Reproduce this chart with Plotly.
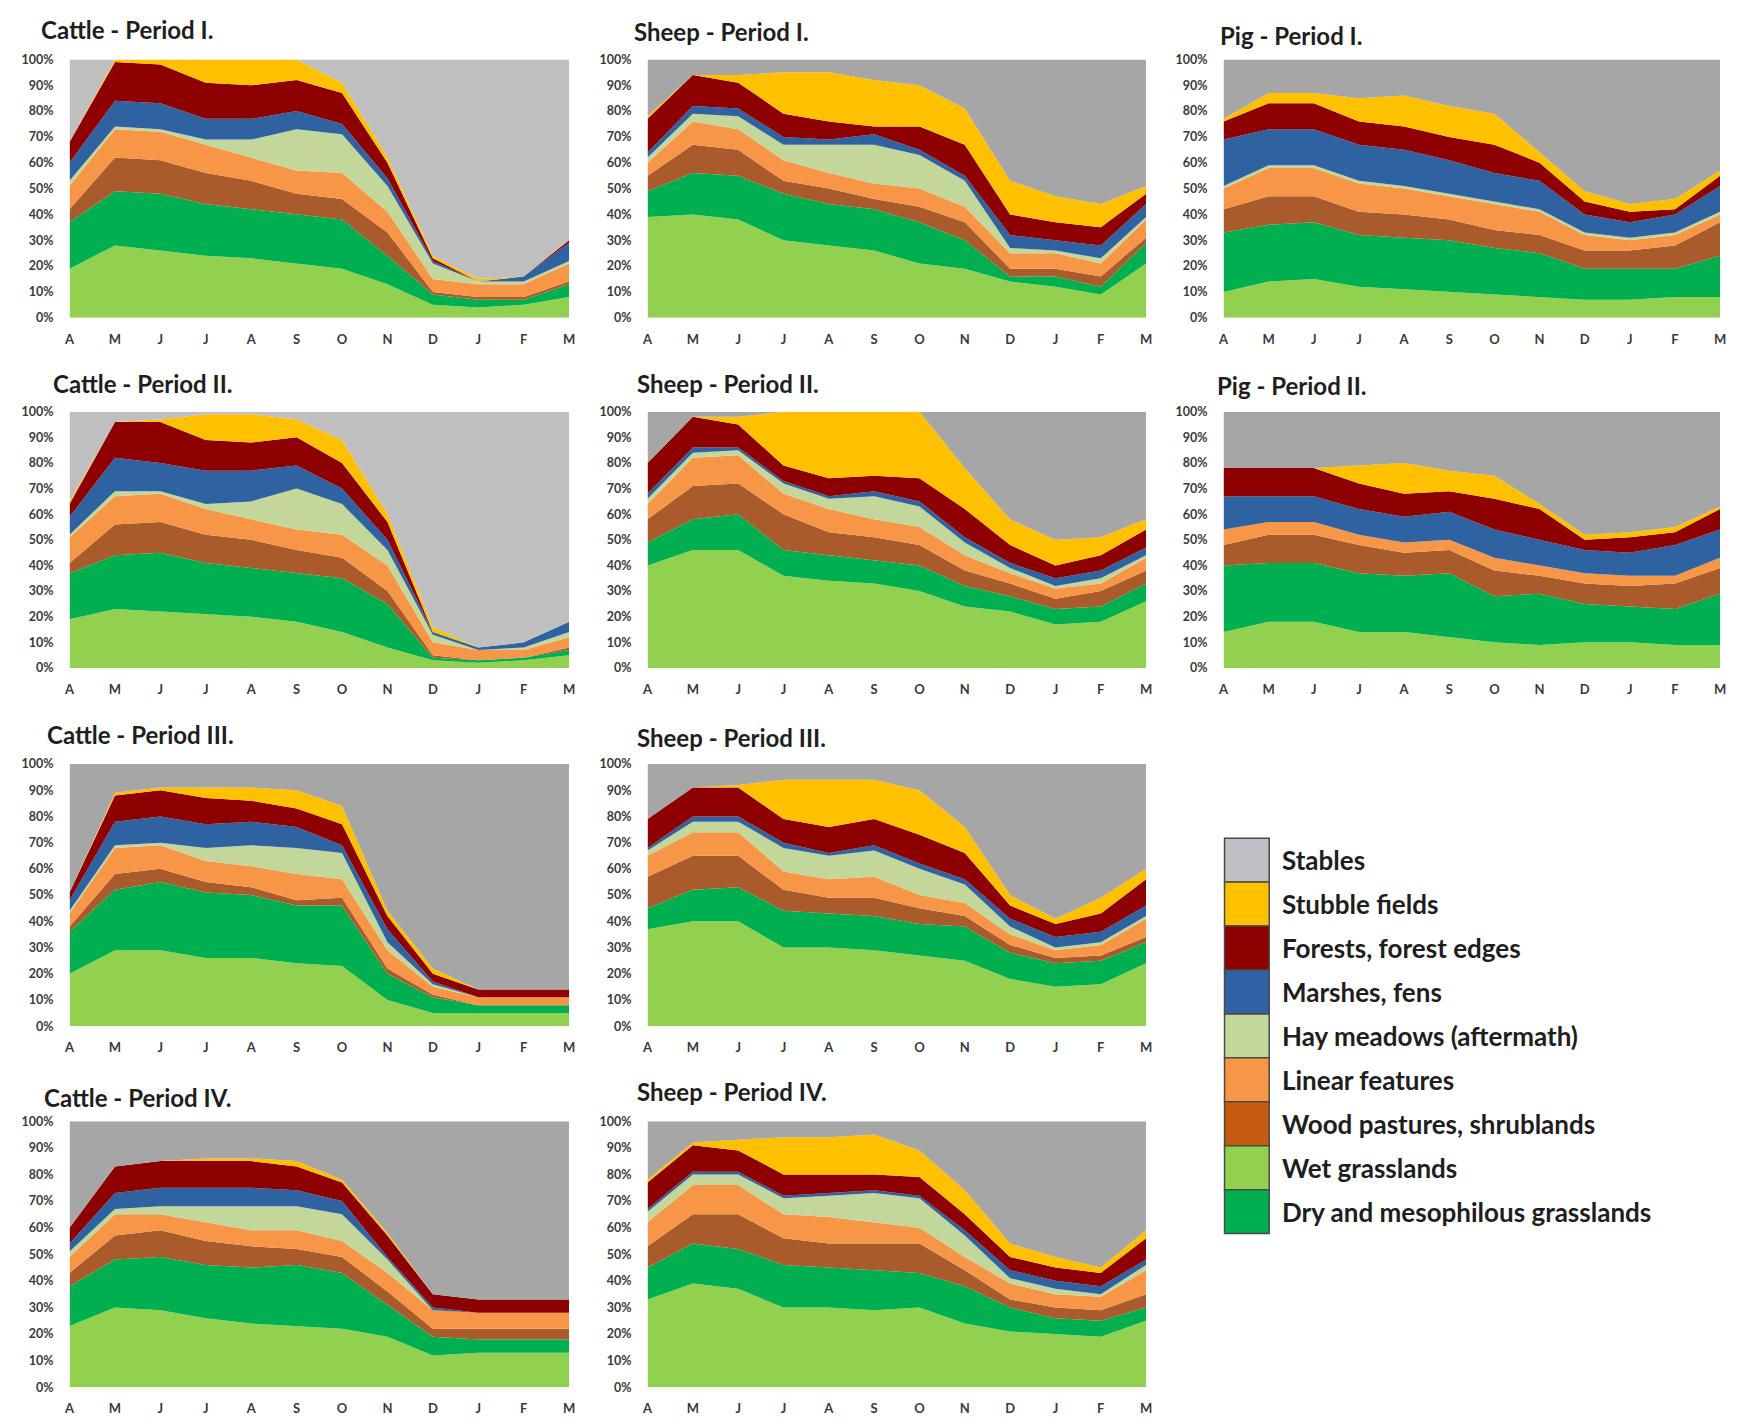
import plotly.graph_objects as go

W, H = 1738, 1427

MONTHS = ["A", "M", "J", "J", "A", "S", "O", "N", "D", "J", "F", "M"]
Y_TICK_VALUES = [0, 10, 20, 30, 40, 50, 60, 70, 80, 90, 100]
Y_TICK_LABELS = ["0%", "10%", "20%", "30%", "40%", "50%", "60%", "70%", "80%", "90%", "100%"]

# stacking order, bottom to top
LAYER_KEYS = ["wet", "dry", "wood", "linear", "hay", "marsh", "forest", "stubble", "stables"]
LAYER_NAMES = {
    "stables": "Stables",
    "stubble": "Stubble fields",
    "forest": "Forests, forest edges",
    "marsh": "Marshes, fens",
    "hay": "Hay meadows (aftermath)",
    "linear": "Linear features",
    "wood": "Wood pastures, shrublands",
    "wet": "Wet grasslands",
    "dry": "Dry and mesophilous grasslands",
}
LEGEND_ORDER = ["stables", "stubble", "forest", "marsh", "hay", "linear", "wood", "wet", "dry"]

COLORS = {
    "wet": "#92d050",
    "dry": "#00b050",
    "wood": "#aa5b2b",
    "linear": "#f79646",
    "hay": "#c4d79b",
    "marsh": "#2f62a0",
    "forest": "#8e0000",
    "stubble": "#ffc000",
    "stables": "#a6a6a6",
}
LEGEND_COLORS = {
    "stables": "#c0c0c6",
    "stubble": "#ffc000",
    "forest": "#8e0000",
    "marsh": "#2f62a6",
    "hay": "#c4d79b",
    "linear": "#f79646",
    "wood": "#c55a11",
    "wet": "#92d050",
    "dry": "#00b050",
}

# ---- data: share (%) of each habitat per month, April .. March ----
CATTLE_I = {
    "wet":     [19, 28, 26, 24, 23, 21, 19, 13, 5, 4, 5, 8],
    "dry":     [18, 21, 22, 20, 19, 19, 19, 11, 4, 3, 2, 5],
    "wood":    [5, 13, 13, 12, 11, 8, 8, 9, 1, 1, 1, 1],
    "linear":  [9, 11, 11, 11, 9, 9, 10, 8, 5, 5, 5, 7],
    "hay":     [2, 1, 1, 2, 7, 16, 15, 10, 6, 1, 1, 1],
    "marsh":   [7, 10, 10, 8, 8, 7, 4, 3, 1, 0, 2, 7],
    "forest":  [8, 15, 15, 14, 13, 12, 12, 6, 1, 0, 0, 1],
    "stubble": [0, 1, 2, 9, 10, 8, 4, 2, 1, 1, 0, 0],
    "stables": [32, 0, 0, 0, 0, 0, 9, 38, 76, 85, 84, 70],
}
SHEEP_I = {
    "wet":     [39, 40, 38, 30, 28, 26, 21, 19, 14, 12, 9, 21],
    "dry":     [10, 16, 17, 18, 16, 16, 16, 11, 2, 4, 3, 8],
    "wood":    [6, 11, 10, 5, 6, 4, 6, 7, 3, 3, 4, 2],
    "linear":  [5, 9, 8, 8, 6, 6, 7, 6, 6, 6, 5, 7],
    "hay":     [2, 3, 5, 6, 11, 15, 13, 10, 2, 1, 2, 1],
    "marsh":   [2, 3, 3, 3, 2, 4, 2, 2, 5, 4, 5, 5],
    "forest":  [13, 12, 10, 9, 7, 3, 9, 12, 8, 7, 7, 4],
    "stubble": [1, 0, 3, 16, 19, 18, 16, 14, 13, 10, 9, 3],
    "stables": [22, 6, 6, 5, 5, 8, 10, 19, 47, 53, 56, 49],
}
PIG_I = {
    "wet":     [10, 14, 15, 12, 11, 10, 9, 8, 7, 7, 8, 8],
    "dry":     [23, 22, 22, 20, 20, 20, 18, 17, 12, 12, 11, 16],
    "wood":    [9, 11, 10, 9, 9, 8, 7, 7, 7, 7, 9, 13],
    "linear":  [8, 11, 11, 11, 10, 9, 10, 9, 6, 4, 4, 3],
    "hay":     [1, 1, 1, 1, 1, 1, 1, 1, 1, 1, 1, 1],
    "marsh":   [18, 14, 14, 14, 14, 13, 11, 11, 7, 6, 7, 10],
    "forest":  [7, 10, 10, 9, 9, 9, 11, 7, 5, 4, 2, 4],
    "stubble": [1, 4, 4, 9, 12, 12, 12, 4, 4, 3, 4, 2],
    "stables": [23, 13, 13, 15, 14, 18, 21, 36, 51, 56, 54, 43],
}
CATTLE_II = {
    "wet":     [19, 23, 22, 21, 20, 18, 14, 8, 3, 2, 3, 5],
    "dry":     [18, 21, 23, 20, 19, 19, 21, 17, 1, 1, 1, 2],
    "wood":    [4, 12, 12, 11, 11, 9, 8, 5, 1, 0, 0, 1],
    "linear":  [10, 11, 11, 10, 8, 8, 9, 10, 5, 4, 3, 4],
    "hay":     [1, 2, 1, 2, 7, 16, 12, 6, 3, 0, 1, 2],
    "marsh":   [7, 13, 11, 13, 12, 9, 6, 4, 1, 1, 2, 4],
    "forest":  [5, 14, 16, 12, 11, 11, 10, 7, 0, 0, 0, 0],
    "stubble": [1, 0, 1, 10, 11, 7, 9, 3, 2, 0, 0, 0],
    "stables": [35, 4, 3, 1, 1, 3, 11, 40, 84, 92, 90, 82],
}
SHEEP_II = {
    "wet":     [40, 46, 46, 36, 34, 33, 30, 24, 22, 17, 18, 26],
    "dry":     [9, 12, 14, 10, 10, 9, 10, 8, 6, 6, 6, 7],
    "wood":    [9, 13, 12, 14, 9, 9, 8, 6, 5, 4, 6, 5],
    "linear":  [6, 11, 11, 8, 9, 7, 7, 6, 4, 4, 3, 5],
    "hay":     [2, 2, 2, 4, 4, 9, 8, 5, 2, 1, 2, 1],
    "marsh":   [2, 2, 1, 1, 1, 2, 2, 2, 2, 3, 3, 3],
    "forest":  [12, 12, 9, 6, 7, 6, 9, 11, 7, 5, 6, 7],
    "stubble": [0, 0, 3, 21, 26, 25, 26, 16, 10, 10, 7, 4],
    "stables": [20, 2, 2, 0, 0, 0, 0, 22, 42, 50, 49, 42],
}
PIG_II = {
    "wet":     [14, 18, 18, 14, 14, 12, 10, 9, 10, 10, 9, 9],
    "dry":     [26, 23, 23, 23, 22, 25, 18, 20, 15, 14, 14, 20],
    "wood":    [8, 11, 11, 11, 9, 9, 10, 7, 8, 8, 10, 10],
    "linear":  [6, 5, 5, 4, 4, 4, 5, 4, 4, 4, 3, 4],
    "hay":     [0, 0, 0, 0, 0, 0, 0, 0, 0, 0, 0, 0],
    "marsh":   [13, 10, 10, 10, 10, 11, 11, 10, 9, 9, 12, 11],
    "forest":  [11, 11, 11, 10, 9, 8, 12, 12, 4, 6, 5, 8],
    "stubble": [0, 0, 0, 7, 12, 8, 9, 2, 2, 2, 2, 1],
    "stables": [22, 22, 22, 21, 20, 23, 25, 36, 48, 47, 45, 37],
}
CATTLE_III = {
    "wet":     [20, 29, 29, 26, 26, 24, 23, 10, 5, 5, 5, 5],
    "dry":     [16, 23, 26, 25, 24, 22, 23, 10, 6, 3, 3, 3],
    "wood":    [2, 6, 5, 4, 3, 2, 3, 2, 1, 0, 0, 0],
    "linear":  [5, 10, 9, 8, 8, 10, 7, 7, 3, 3, 3, 3],
    "hay":     [1, 1, 1, 5, 8, 10, 10, 3, 1, 0, 0, 0],
    "marsh":   [4, 9, 10, 9, 9, 8, 3, 5, 1, 0, 0, 0],
    "forest":  [3, 10, 10, 10, 8, 7, 8, 5, 3, 3, 3, 3],
    "stubble": [0, 1, 1, 4, 5, 7, 7, 2, 2, 0, 0, 0],
    "stables": [49, 11, 9, 9, 9, 10, 16, 56, 78, 86, 86, 86],
}
SHEEP_III = {
    "wet":     [37, 40, 40, 30, 30, 29, 27, 25, 18, 15, 16, 24],
    "dry":     [8, 12, 13, 14, 13, 13, 12, 13, 10, 9, 9, 8],
    "wood":    [12, 13, 12, 8, 6, 7, 6, 4, 3, 2, 2, 2],
    "linear":  [8, 9, 9, 7, 7, 8, 5, 5, 4, 3, 4, 7],
    "hay":     [2, 4, 4, 9, 9, 10, 10, 7, 3, 1, 1, 1],
    "marsh":   [1, 2, 2, 2, 1, 2, 2, 2, 3, 4, 4, 4],
    "forest":  [11, 11, 11, 9, 10, 10, 11, 10, 5, 5, 7, 10],
    "stubble": [0, 0, 1, 15, 18, 15, 17, 10, 4, 2, 6, 4],
    "stables": [21, 9, 8, 6, 6, 6, 10, 24, 50, 59, 51, 40],
}
CATTLE_IV = {
    "wet":     [23, 30, 29, 26, 24, 23, 22, 19, 12, 13, 13, 13],
    "dry":     [15, 18, 20, 20, 21, 23, 21, 12, 7, 5, 5, 5],
    "wood":    [5, 9, 10, 9, 8, 6, 6, 5, 3, 4, 4, 4],
    "linear":  [6, 8, 6, 7, 6, 7, 6, 7, 7, 6, 6, 6],
    "hay":     [2, 2, 3, 6, 9, 9, 10, 5, 0, 0, 0, 0],
    "marsh":   [3, 6, 7, 7, 7, 6, 5, 1, 1, 0, 0, 0],
    "forest":  [6, 10, 10, 10, 10, 9, 7, 8, 5, 5, 5, 5],
    "stubble": [0, 0, 0, 1, 1, 2, 1, 1, 0, 0, 0, 0],
    "stables": [40, 17, 15, 14, 14, 15, 22, 42, 65, 67, 67, 67],
}
SHEEP_IV = {
    "wet":     [33, 39, 37, 30, 30, 29, 30, 24, 21, 20, 19, 25],
    "dry":     [12, 15, 15, 16, 15, 15, 13, 14, 9, 6, 6, 5],
    "wood":    [8, 11, 13, 10, 9, 10, 11, 6, 3, 4, 4, 5],
    "linear":  [9, 11, 11, 9, 10, 8, 6, 5, 6, 5, 5, 9],
    "hay":     [4, 4, 4, 6, 8, 11, 11, 8, 2, 2, 1, 2],
    "marsh":   [1, 1, 1, 1, 1, 1, 1, 2, 3, 3, 3, 2],
    "forest":  [10, 10, 8, 8, 7, 6, 7, 6, 5, 5, 5, 8],
    "stubble": [1, 1, 4, 14, 14, 15, 10, 9, 5, 4, 2, 3],
    "stables": [22, 8, 7, 6, 6, 5, 11, 26, 46, 51, 55, 41],
}

# ---- layout (pixel geometry) ----
COL_X = [(64, 567), (646, 1148), (1226, 1726)]
ROW_Y = [(52, 313), (408, 667), (764, 1029), (1125, 1394)]

# title, data, column, row, stables colour, title x, title y (px)
PANELS = [
    ("Cattle - Period I.", CATTLE_I, 0, 0, "#bfbfbf", 33, 22),
    ("Sheep - Period I.", SHEEP_I, 1, 0, "#a6a6a6", 630, 24),
    ("Pig - Period I.", PIG_I, 2, 0, "#a6a6a6", 1220, 28),
    ("Cattle - Period II.", CATTLE_II, 0, 1, "#bfbfbf", 45, 379),
    ("Sheep - Period II.", SHEEP_II, 1, 1, "#a6a6a6", 633, 379),
    ("Pig - Period II.", PIG_II, 2, 1, "#a6a6a6", 1217, 382),
    ("Cattle - Period III.", CATTLE_III, 0, 2, "#a6a6a6", 39, 734),
    ("Sheep - Period III.", SHEEP_III, 1, 2, "#a6a6a6", 633, 737),
    ("Cattle - Period IV.", CATTLE_IV, 0, 3, "#a6a6a6", 36, 1101),
    ("Sheep - Period IV.", SHEEP_IV, 1, 3, "#a6a6a6", 633, 1095),
]

FONT = "Lato, 'Open Sans', Arial, sans-serif"
X_IDX = list(range(len(MONTHS)))

fig = go.Figure()
layout = dict(
    width=W, height=H, autosize=False,
    margin=dict(l=0, r=0, t=0, b=0),
    paper_bgcolor="white", plot_bgcolor="white",
    showlegend=False,
    font=dict(family=FONT),
)
annotations = []
shapes = []

for i, (title, data, col, row, stab_col, tx, ty) in enumerate(PANELS):
    n = "" if i == 0 else str(i + 1)
    for key in LAYER_KEYS:
        c = stab_col if key == "stables" else COLORS[key]
        fig.add_trace(go.Scatter(
            x=X_IDX, y=data[key], name=LAYER_NAMES[key],
            stackgroup=f"s{i}", mode="lines",
            line=dict(width=0, color=c), fillcolor=c,
            xaxis="x" + n, yaxis="y" + n,
            hovertemplate=LAYER_NAMES[key] + ": %{y}%<extra></extra>",
        ))
    x0, x1 = COL_X[col]
    y0, y1 = ROW_Y[row]
    layout["xaxis" + n] = dict(
        domain=[x0 / W, x1 / W], anchor="y" + n, range=[0, 11],
        tickmode="array", tickvals=X_IDX, ticktext=MONTHS,
        showgrid=False, zeroline=False, showline=False, ticks="",
        ticklabelstandoff=12,
        tickfont=dict(family=FONT, size=13, color="#3a3a3a", weight="bold"),
        fixedrange=True,
    )
    layout["yaxis" + n] = dict(
        domain=[1 - y1 / H, 1 - y0 / H], anchor="x" + n, range=[0, 100],
        tickmode="array", tickvals=Y_TICK_VALUES, ticktext=Y_TICK_LABELS,
        showgrid=False, zeroline=False, showline=False, ticks="",
        ticklabelstandoff=15,
        tickfont=dict(family=FONT, size=12.5, color="#3a3a3a", weight="bold"),
        fixedrange=True,
    )
    annotations.append(dict(
        x=tx / W, y=1 - ty / H, xref="paper", yref="paper",
        xanchor="left", yanchor="middle", showarrow=False,
        text="<b>" + title + "</b>",
        font=dict(family=FONT, size=24, color="#1e1e1e"),
    ))

# legend
LEG_X0, LEG_X1, LEG_TOP, LEG_STEP, LEG_TEXT_X = 1227, 1272, 839, 44.4, 1283
for j, key in enumerate(LEGEND_ORDER):
    top = LEG_TOP + j * LEG_STEP
    bot = top + LEG_STEP
    shapes.append(dict(
        type="rect", xref="paper", yref="paper",
        x0=LEG_X0 / W, x1=LEG_X1 / W, y0=1 - bot / H, y1=1 - top / H,
        fillcolor=LEGEND_COLORS[key], line=dict(color="#4a4a4a", width=1.5),
    ))
    annotations.append(dict(
        x=LEG_TEXT_X / W, y=1 - (top + LEG_STEP / 2) / H,
        xref="paper", yref="paper", xanchor="left", yanchor="middle",
        showarrow=False, text="<b>" + LAYER_NAMES[key] + "</b>",
        font=dict(family=FONT, size=26, color="#1e1e1e"),
    ))

layout["annotations"] = annotations
layout["shapes"] = shapes
fig.update_layout(**layout)
fig.write_html(
    "out.html",
    config={"displayModeBar": False},
    post_script="document.body.style.margin='0';document.body.style.padding='0';",
)
